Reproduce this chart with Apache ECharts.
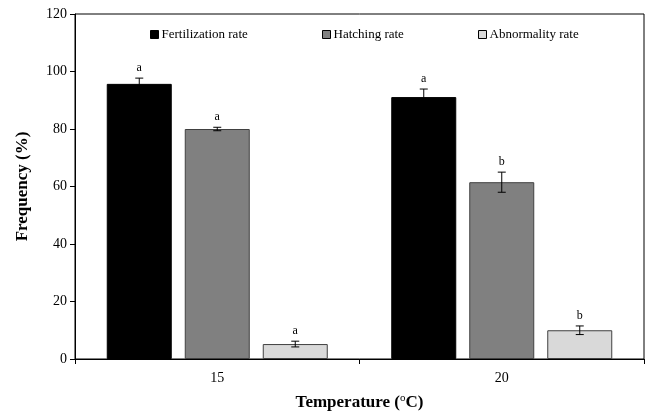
<!DOCTYPE html>
<html><head><meta charset="utf-8">
<script src="https://cdn.jsdelivr.net/npm/echarts@6/dist/echarts.min.js"></script>
<style>html,body{margin:0;padding:0;background:#fff}#c{width:648px;height:412px}</style>
</head><body><div id="c"></div>
<script>
const categories = ['15', '20'];
const seriesNames = ['Fertilization rate', 'Hatching rate', 'Abnormality rate'];
const fertilization = [95.7, 91.1];
const hatching = [80.0, 61.5];
const abnormality = [5.2, 10.0];
const fertilizationErr = [2.0, 2.8];
const hatchingErr = [0.6, 3.5];
const abnormalityErr = [1.0, 1.5];
const fertilizationSig = ['a', 'a'];
const hatchingSig = ['a', 'b'];
const abnormalitySig = ['a', 'b'];
const yTicks = [0, 20, 40, 60, 80, 100, 120];

const values = [fertilization, hatching, abnormality];
const errs = [fertilizationErr, hatchingErr, abnormalityErr];
const sigs = [fertilizationSig, hatchingSig, abnormalitySig];
const colors = ['#000000', '#808080', '#d9d9d9'];
const borders = ['#000000', '#404040', '#404040'];
const legendLeft = [150, 322, 478];
const BAR_W = 65, GAP = 13;
const font = 'Liberation Serif';

const chart = echarts.init(document.getElementById('c'));
const series = [];
values.forEach((vals, i) => {
  series.push({
    name: seriesNames[i], type: 'bar', data: vals, barWidth: BAR_W, barGap: (GAP / BAR_W * 100) + '%',
    itemStyle: { color: colors[i], borderColor: borders[i], borderWidth: 1 }
  });
});
values.forEach((vals, i) => {
  series.push({
    type: 'custom', z: 10, silent: true,
    data: vals.map((v, j) => [j, v, errs[i][j]]),
    renderItem: function (params, api) {
      const xi = api.value(0), v = api.value(1), e = api.value(2);
      const sig = sigs[i][params.dataIndex];
      const center = api.coord([xi, v]);
      const x = center[0] + (i - 1) * (BAR_W + GAP);
      const top = api.coord([xi, v + e])[1];
      const bot = api.coord([xi, v - e])[1];
      const cap = 4;
      const st = { stroke: '#000', lineWidth: 1 };
      return { type: 'group', children: [
        { type: 'line', shape: { x1: x, y1: top, x2: x, y2: bot }, style: st },
        { type: 'line', shape: { x1: x - cap, y1: top, x2: x + cap, y2: top }, style: st },
        { type: 'line', shape: { x1: x - cap, y1: bot, x2: x + cap, y2: bot }, style: st },
        { type: 'text', style: { x: x, y: top - 4, text: sig, textAlign: 'center', textVerticalAlign: 'bottom',
          fill: '#000', font: '12px "Liberation Serif"' } }
      ]};
    }
  });
});

chart.setOption({
  animation: false,
  textStyle: { fontFamily: font },
  grid: { left: 75, right: 4, top: 14, bottom: 53, show: true, borderColor: '#000', borderWidth: 1,
    outerBoundsMode: 'none', containLabel: false },
  legend: seriesNames.map((n, i) => ({
    data: [n], left: legendLeft[i], top: 28, itemWidth: 8, itemHeight: 8, icon: 'rect', padding: 0,
    textStyle: { fontFamily: font, fontSize: 13, color: '#000', padding: [0, 0, 0, -2] },
    itemStyle: { borderColor: '#000', borderWidth: 1 }
  })),
  xAxis: {
    type: 'category', data: categories,
    name: '{b|Temperature (}{s|o}{b|C)}', nameLocation: 'middle', nameGap: 34,
    nameTextStyle: { rich: {
      b: { fontFamily: font, fontSize: 17, fontWeight: 'bold', color: '#000' },
      s: { fontFamily: font, fontSize: 11, fontWeight: 'normal', color: '#000', verticalAlign: 'top', padding: [0, 0, 8, 0] }
    } },
    axisLine: { lineStyle: { color: '#000', width: 1 } },
    axisTick: { show: true, length: 5, lineStyle: { color: '#000' } },
    axisLabel: { color: '#000', fontFamily: font, fontSize: 14, margin: 12 },
    splitLine: { show: false }
  },
  yAxis: {
    type: 'value', min: 0, max: 120, interval: 20,
    name: 'Frequency (%)', nameLocation: 'middle', nameGap: 44, nameRotate: 90,
    nameTextStyle: { fontFamily: font, fontSize: 17, fontWeight: 'bold', color: '#000' },
    axisLine: { show: true, lineStyle: { color: '#000', width: 1 } },
    axisTick: { show: true, length: 5, lineStyle: { color: '#000' } },
    axisLabel: { color: '#000', fontFamily: font, fontSize: 14, margin: 8,
      formatter: v => yTicks.includes(v) ? String(v) : '' },
    splitLine: { show: false }
  },
  series: series
});
</script></body></html>
